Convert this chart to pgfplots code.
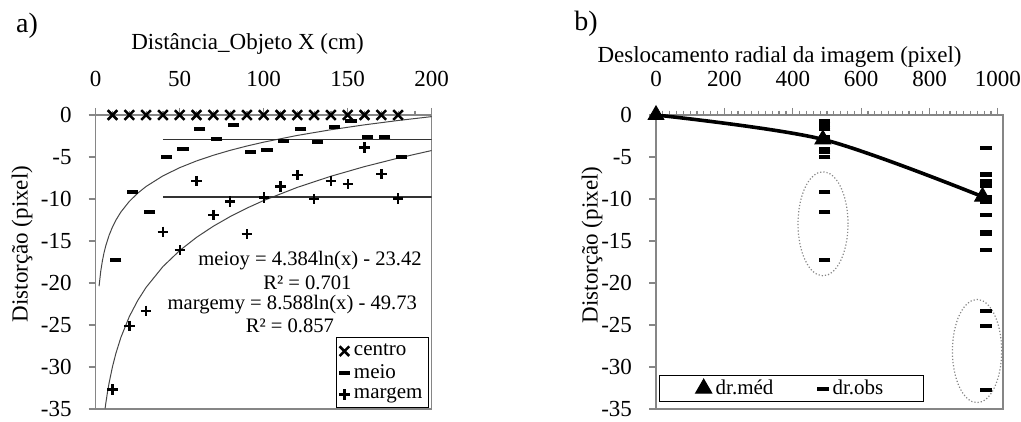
\documentclass[border=0pt]{standalone}
\usepackage{fontspec}
\setmainfont{Liberation Serif}
\usepackage{pgfplots}
\pgfplotsset{compat=1.18}
\definecolor{axgray}{RGB}{134,134,134}
\definecolor{trend}{RGB}{70,70,70}
\pgfplotsset{
  common/.style={
    scale only axis,
    axis line style={axgray, line width=0.6pt},
    tick style={axgray, line width=0.6pt},
    tick align=outside,
    major tick length=3.5pt, minor tick length=2.2pt,
    xtick pos=right, xticklabel pos=right,
    ytick pos=left,
    ymin=-35, ymax=0, ytick={-35,-30,...,0},
    /pgf/number format/assume math mode=true,
    /pgf/number format/1000 sep={},
    ticklabel style={font=\fontsize{11.5}{13}\selectfont, text=black},
    label style={font=\fontsize{11.5}{13}\selectfont},
    yticklabel style={xshift=-5pt},
    xticklabel style={yshift=7pt},
    legend image code/.code={\draw[mark repeat=2,mark phase=2,#1] plot coordinates {(0cm,0cm) (0.12cm,0cm) (0.24cm,0cm)};},
  }
}
\begin{document}
\begin{tikzpicture}
\useasboundingbox (0,0) rectangle (510.5pt,-211pt);
\node[font=\fontsize{14}{16}\selectfont] at (13.5pt,-12.75pt) {a)};
\node[font=\fontsize{14}{16}\selectfont] at (293pt,-12pt) {b)};
% ---------------- panel a
\begin{axis}[common, at={(47.85pt,-57.5pt)}, anchor=north west, width=168pt, height=147pt,
  xmin=0, xmax=200, xtick={0,50,...,200}, minor x tick num=4,
  xlabel={Distância\_Objeto X (cm)},
  xlabel style={at={(axis description cs:0.452,1)}, anchor=center, yshift=35.5pt},
  ylabel={Distorção (pixel)},
  ylabel style={at={(axis description cs:0,0.561)}, anchor=center, yshift=36.85pt},
  legend style={at={(axis description cs:0.992,0.004)}, anchor=south east, draw=black, line width=0.6pt,
    font=\fontsize{10.5}{11}\selectfont, inner sep=1pt, row sep=-1pt, cells={anchor=west}},
]
\addplot[trend, line width=0.5pt, forget plot] coordinates {
(2,-20.381) (3,-18.604) (4,-17.343) (5,-16.364) (6,-15.565) (8,-14.304) (10,-13.326) (12,-12.526)
(15,-11.548) (20,-10.287) (25,-9.308) (30,-8.509) (40,-7.248) (50,-6.270) (60,-5.470) (70,-4.795)
(80,-4.209) (90,-3.693) (100,-3.231) (120,-2.432) (140,-1.756) (160,-1.170) (180,-0.654) (200,-0.192)};
\addplot[trend, line width=0.5pt, forget plot] coordinates {
(5.6,-34.935) (6,-34.342) (7,-33.019) (8,-31.872) (10,-29.955) (12,-28.390) (15,-26.473) (20,-24.003)
(25,-22.086) (30,-20.520) (40,-18.050) (50,-16.134) (60,-14.568) (70,-13.244) (80,-12.097) (90,-11.086)
(100,-10.181) (120,-8.615) (140,-7.292) (160,-6.144) (180,-5.133) (200,-4.228)};
\addplot[black!80, line width=0.7pt, forget plot] coordinates {(40,-2.95) (200,-2.95)};
\addplot[black!80, line width=0.7pt, forget plot] coordinates {(40,-9.75) (200,-9.75)};
\addplot[only marks, mark=x, mark size=3.4pt, mark options={line width=1.25pt, black}] coordinates {
(10,0) (20,0) (30,0) (40,0) (50,0) (60,0) (70,0) (80,0) (90,0) (100,0) (110,0) (120,0)
(130,0) (140,0) (150,0) (160,0) (170,0) (180,0)};
\addlegendentry{centro}
\addplot[only marks, mark=-, mark size=2.8pt, mark options={line width=2pt, black}] coordinates {
(12,-17.3) (22,-9.2) (32,-11.5) (42,-5.0) (52,-4.05) (62,-1.7) (72,-2.86) (82,-1.19) (92,-4.4)
(102,-4.17) (112,-3.06) (122,-1.7) (132,-3.17) (142,-1.47) (152,-0.67) (162,-2.58) (172,-2.58) (182,-5.04)};
\addlegendentry{meio}
\addplot[only marks, mark=+, mark size=2.6pt, mark options={line width=1.2pt, black}] coordinates {
(10,-32.7) (20,-25.1) (30,-23.3) (40,-13.9) (50,-16.1) (60,-7.86) (70,-11.9) (80,-10.3) (90,-14.2)
(100,-9.8) (110,-8.5) (120,-7.14) (130,-10.0) (140,-7.86) (150,-8.25) (160,-3.89) (170,-7.02) (180,-9.92)};
\addlegendentry{margem}
\node[font=\fontsize{10.3}{12}\selectfont] at (axis cs:127.6,-17.3) {meioy = 4.384ln(x) - 23.42};
\node[font=\fontsize{10.3}{12}\selectfont] at (axis cs:126,-20.0) {R² = 0.701};
\node[font=\fontsize{10.3}{12}\selectfont] at (axis cs:117,-22.6) {margemy = 8.588ln(x) - 49.73};
\node[font=\fontsize{10.3}{12}\selectfont] at (axis cs:115.6,-25.1) {R² = 0.857};
\end{axis}
% ---------------- panel b
\begin{axis}[common, at={(328pt,-57.5pt)}, anchor=north west, width=173.5pt, height=147pt,
  xmin=0, xmax=1015, xtick={0,200,...,1000}, minor x tick num=9,
  xlabel={Deslocamento radial da imagem (pixel)},
  xlabel style={at={(axis description cs:0.356,1)}, anchor=center, yshift=29pt},
  ylabel={Distorção (pixel)},
  ylabel style={at={(axis description cs:0,0.558)}, anchor=center, yshift=32pt},
  legend columns=2,
  legend style={at={(axis description cs:0.009,0.024)}, anchor=south west, draw=black, line width=0.6pt,
    font=\fontsize{10.5}{11}\selectfont, inner xsep=18pt, inner ysep=0pt,
    /tikz/every even column/.append style={column sep=20pt}},
]
\draw[axgray, densely dotted, line width=0.6pt] (axis cs:488.5,-12.95) ellipse [x radius=12.5pt, y radius=26pt];
\draw[axgray, densely dotted, line width=0.6pt] (axis cs:939,-28.1) ellipse [x radius=12.3pt, y radius=25.8pt];
\addplot[black, line width=1.8pt, smooth, forget plot] coordinates {(0,0) (488,-2.9) (955,-9.72)};
\addplot[only marks, mark=triangle*, mark size=4.6pt, mark options={black}] coordinates {(0,0) (488,-2.9) (955,-9.72)};
\addlegendentry{dr.méd}
\addplot[only marks, mark=-, mark size=2.8pt, mark options={line width=2pt, black}] coordinates {
(494,-17.3) (494,-9.2) (494,-11.5) (494,-5.0) (494,-4.05) (494,-1.7) (494,-2.86) (494,-1.19) (494,-4.4)
(494,-4.17) (494,-3.06) (494,-1.7) (494,-3.17) (494,-1.47) (494,-0.67) (494,-2.58) (494,-2.58) (494,-5.04)
(965,-32.7) (965,-25.1) (965,-23.3) (965,-13.9) (965,-16.1) (965,-7.86) (965,-11.9) (965,-10.3) (965,-14.2)
(965,-9.8) (965,-8.5) (965,-7.14) (965,-10.0) (965,-7.86) (965,-8.25) (965,-3.89) (965,-7.02) (965,-9.92)};
\addlegendentry{dr.obs}
\end{axis}
\end{tikzpicture}
\end{document}
